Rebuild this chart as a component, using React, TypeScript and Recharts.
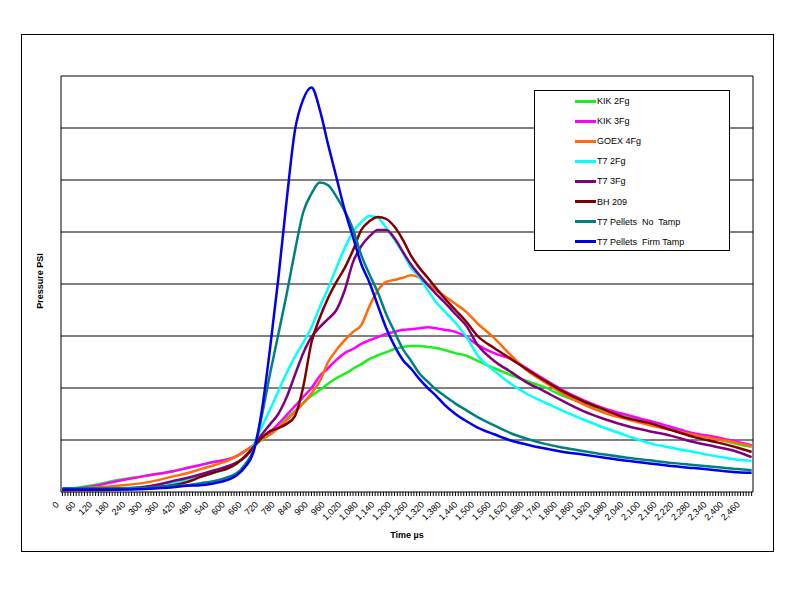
import { LineChart, Line, XAxis, YAxis, ReferenceLine, Legend } from 'recharts';

const FONT = 'Arial, "Liberation Sans", sans-serif';

// sample times (µs) the curves were read at
const timeUs = [
  0, 100, 200, 300, 400, 450, 500, 550, 600, 630, 660, 690, 720, 750, 780, 810, 840, 870, 900,
  930, 960, 990, 1020, 1050, 1080, 1110, 1140, 1170, 1200, 1230, 1260, 1290, 1320, 1350, 1380,
  1420, 1460, 1500, 1560, 1620, 1680, 1740, 1800, 1880, 1960, 2040, 2120, 2200, 2280, 2360, 2440, 2490,
];

// pressure readings (no scale is printed on the original, so one grid step = 1)
const kik2Fg = [
  0.04, 0.12, 0.23, 0.31, 0.4, 0.46, 0.52, 0.58, 0.63, 0.69, 0.79, 0.88, 1.0, 1.13, 1.25, 1.42, 1.56, 1.71, 1.85,
  1.96, 2.08, 2.19, 2.27, 2.37, 2.46, 2.56, 2.63, 2.69, 2.75, 2.79, 2.81, 2.81, 2.79, 2.77, 2.73,
  2.67, 2.62, 2.52, 2.38, 2.25, 2.13, 2.02, 1.87, 1.71, 1.56, 1.44, 1.33, 1.21, 1.12, 1.02, 0.92, 0.87,
];
const kik3Fg = [
  0.04, 0.1, 0.21, 0.31, 0.4, 0.46, 0.52, 0.58, 0.63, 0.69, 0.79, 0.9, 1.04, 1.15, 1.31, 1.48, 1.65, 1.83, 2.0,
  2.23, 2.38, 2.54, 2.67, 2.75, 2.85, 2.92, 2.98, 3.04, 3.08, 3.12, 3.13, 3.15, 3.17, 3.15, 3.12,
  3.08, 2.98, 2.83, 2.67, 2.56, 2.37, 2.17, 1.98, 1.77, 1.6, 1.48, 1.37, 1.25, 1.13, 1.06, 0.96, 0.9,
];
const goex4Fg = [
  0.05, 0.08, 0.12, 0.18, 0.3, 0.36, 0.44, 0.52, 0.61, 0.69, 0.79, 0.9, 1.02, 1.1, 1.23, 1.38, 1.54, 1.71, 1.9,
  2.13, 2.5, 2.73, 2.92, 3.08, 3.21, 3.58, 3.88, 4.04, 4.08, 4.12, 4.17, 4.12, 4.0, 3.88, 3.77,
  3.62, 3.46, 3.24, 2.96, 2.63, 2.33, 2.12, 1.92, 1.69, 1.52, 1.4, 1.29, 1.19, 1.1, 1.02, 0.94, 0.88,
];
const t7_2Fg = [
  0.05, 0.05, 0.07, 0.1, 0.17, 0.23, 0.3, 0.37, 0.46, 0.55, 0.67, 0.89, 1.25, 1.58, 1.94, 2.29, 2.6, 2.87, 3.17,
  3.56, 3.92, 4.31, 4.69, 5.0, 5.19, 5.31, 5.27, 5.08, 4.85, 4.6, 4.31, 4.13, 3.88, 3.65, 3.48,
  3.25, 2.98, 2.63, 2.33, 2.08, 1.88, 1.73, 1.58, 1.4, 1.23, 1.08, 0.94, 0.85, 0.77, 0.69, 0.62, 0.6,
];
const t7_3Fg = [
  0.04, 0.05, 0.06, 0.1, 0.21, 0.27, 0.34, 0.42, 0.5, 0.57, 0.67, 0.86, 1.1, 1.3, 1.5, 1.82, 2.25, 2.67, 2.98,
  3.17, 3.33, 3.5, 3.88, 4.42, 4.73, 4.92, 5.04, 5.04, 4.88, 4.62, 4.37, 4.17, 3.98, 3.81, 3.65,
  3.42, 3.19, 2.83, 2.52, 2.31, 2.1, 1.94, 1.77, 1.56, 1.4, 1.27, 1.17, 1.08, 0.96, 0.87, 0.77, 0.67,
];
const bh209 = [
  0.04, 0.04, 0.05, 0.08, 0.13, 0.19, 0.29, 0.38, 0.46, 0.55, 0.69, 0.86, 1.04, 1.17, 1.23, 1.31, 1.46, 2.02, 2.88,
  3.35, 3.73, 4.04, 4.31, 4.65, 5.04, 5.21, 5.29, 5.25, 5.1, 4.85, 4.54, 4.31, 4.12, 3.92, 3.73,
  3.5, 3.27, 3.0, 2.77, 2.56, 2.35, 2.15, 1.96, 1.75, 1.58, 1.42, 1.33, 1.19, 1.06, 0.96, 0.85, 0.77,
];
const pelletsNoTamp = [
  0.07, 0.07, 0.07, 0.08, 0.12, 0.13, 0.17, 0.21, 0.29, 0.36, 0.53, 0.8, 1.45, 2.27, 3.03, 3.8, 4.63, 5.38, 5.74,
  5.95, 5.9, 5.68, 5.4, 5.05, 4.55, 4.18, 3.83, 3.42, 3.08, 2.75, 2.52, 2.28, 2.12, 1.97, 1.85,
  1.7, 1.57, 1.44, 1.28, 1.13, 1.02, 0.93, 0.86, 0.79, 0.72, 0.66, 0.61, 0.56, 0.52, 0.48, 0.44, 0.42,
];
const pelletsFirmTamp = [
  0.05, 0.05, 0.05, 0.06, 0.09, 0.12, 0.13, 0.17, 0.24, 0.32, 0.48, 0.76, 1.55, 2.75, 4.1, 5.6, 6.95, 7.55, 7.78,
  7.35, 6.68, 6.05, 5.42, 4.9, 4.38, 4.02, 3.58, 3.15, 2.81, 2.54, 2.37, 2.17, 2.0, 1.85, 1.68,
  1.5, 1.36, 1.24, 1.11, 0.99, 0.91, 0.84, 0.78, 0.72, 0.66, 0.6, 0.55, 0.5, 0.46, 0.42, 0.38, 0.37,
];

const legendOrder = [
  'KIK 2Fg',
  'KIK 3Fg',
  'GOEX 4Fg',
  'T7 2Fg',
  'T7 3Fg',
  'BH 209',
  'T7 Pellets  No  Tamp',
  'T7 Pellets  Firm Tamp',
];

// axis ticks: a mark every 10 µs, a label every 60 µs up to 2,460
const xTicks = Array.from({ length: 250 }, (_, i) => i * 10);
const xLabelStep = 60;
const xLastLabel = 2460;
const yTicks = [0, 1, 2, 3, 4, 5, 6, 7, 8];

const data = timeUs.map((t, i) => ({
  t,
  kik2: kik2Fg[i],
  kik3: kik3Fg[i],
  goex4: goex4Fg[i],
  t72: t7_2Fg[i],
  t73: t7_3Fg[i],
  bh: bh209[i],
  noTamp: pelletsNoTamp[i],
  firmTamp: pelletsFirmTamp[i],
}));

const renderTimeTick = (props: any) => {
  const { x, y, payload } = props;
  const v = payload.value as number;
  if (v % xLabelStep !== 0 || v > xLastLabel) return <g />;
  const ax = x - 5;
  const ay = y + 5;
  return (
    <text
      x={ax}
      y={ay}
      transform={`rotate(-45, ${ax}, ${ay})`}
      textAnchor="end"
      dominantBaseline="central"
      fontSize={9}
      fontFamily={FONT}
      fill="#000"
    >
      {v.toLocaleString('en-US')}
    </text>
  );
};

const renderYTitle = (props: any) => {
  const { x, y, height } = props.viewBox;
  const cx = x - 20;
  const cy = y + height / 2 - 3;
  return (
    <text
      x={cx}
      y={cy}
      transform={`rotate(-90, ${cx}, ${cy})`}
      textAnchor="middle"
      dominantBaseline="central"
      fontSize={9}
      fontWeight="bold"
      fontFamily={FONT}
      fill="#000"
    >
      Pressure PSI
    </text>
  );
};

const renderXTitle = (props: any) => {
  const { x, y, width } = props.viewBox;
  return (
    <text
      x={x + width / 2}
      y={y + 43}
      textAnchor="middle"
      dominantBaseline="central"
      fontSize={9}
      fontWeight="bold"
      fontFamily={FONT}
      fill="#000"
    >
      Time µs
    </text>
  );
};

const renderLegend = (props: any) => {
  const payload = [...(props.payload || [])].sort(
    (a: any, b: any) => legendOrder.indexOf(a.value) - legendOrder.indexOf(b.value),
  );
  return (
    <div style={{ width: 194, height: 159, border: '1px solid #000', background: '#fff', fontFamily: FONT }}>
      {payload.map((entry: any) => (
        <div key={entry.value} style={{ display: 'flex', alignItems: 'center', height: 20.1 }}>
          <span style={{ display: 'inline-block', marginLeft: 40, width: 21, height: 3, background: entry.color }} />
          <span style={{ marginLeft: 1, fontSize: 9, whiteSpace: 'pre', color: '#000' }}>{entry.value}</span>
        </div>
      ))}
    </div>
  );
};

export default function App() {
  return (
    <div style={{ position: 'relative', width: 776, height: 596, fontFamily: FONT }}>
      <div
        style={{ position: 'absolute', left: 13, top: 26, width: 751, height: 516, border: '1px solid #000' }}
      />
      <LineChart width={776} height={596} data={data} margin={{ top: 68, right: 30, bottom: 52, left: 52 }}>
        <XAxis
          dataKey="t"
          type="number"
          domain={[-5, 2495]}
          ticks={xTicks}
          interval={0}
          tick={renderTimeTick}
          tickSize={4}
          tickLine={{ stroke: '#000' }}
          axisLine={{ stroke: '#000' }}
          height={60}
          label={renderXTitle}
        />
        <YAxis
          domain={[0, 8]}
          ticks={yTicks}
          tick={false}
          tickLine={false}
          axisLine={{ stroke: '#000' }}
          width={1}
          label={renderYTitle}
        />
        <YAxis
          yAxisId="right"
          orientation="right"
          domain={[0, 8]}
          ticks={yTicks}
          tick={false}
          tickLine={false}
          axisLine={{ stroke: '#000' }}
          width={1}
        />
        {yTicks.slice(1).map((v) => (
          <ReferenceLine key={v} y={v} stroke="#000" strokeWidth={1} ifOverflow="visible" />
        ))}
        <Legend
          content={renderLegend}
          layout="vertical"
          align="center"
          verticalAlign="middle"
          wrapperStyle={{ left: 526, top: 82, width: 196 }}
        />
        <Line type="monotone" dataKey="kik2" name="KIK 2Fg" stroke="#1eee1e" strokeWidth={2.5} dot={false} isAnimationActive={false} />
        <Line type="monotone" dataKey="kik3" name="KIK 3Fg" stroke="#ff00ff" strokeWidth={2.5} dot={false} isAnimationActive={false} />
        <Line type="monotone" dataKey="goex4" name="GOEX 4Fg" stroke="#ff6a0a" strokeWidth={2.5} dot={false} isAnimationActive={false} />
        <Line type="monotone" dataKey="t72" name="T7 2Fg" stroke="#00ffff" strokeWidth={2.5} dot={false} isAnimationActive={false} />
        <Line type="monotone" dataKey="t73" name="T7 3Fg" stroke="#800080" strokeWidth={2.5} dot={false} isAnimationActive={false} />
        <Line type="monotone" dataKey="bh" name="BH 209" stroke="#800000" strokeWidth={2.5} dot={false} isAnimationActive={false} />
        <Line type="monotone" dataKey="noTamp" name="T7 Pellets  No  Tamp" stroke="#008080" strokeWidth={2.5} dot={false} isAnimationActive={false} />
        <Line type="monotone" dataKey="firmTamp" name="T7 Pellets  Firm Tamp" stroke="#0000ee" strokeWidth={2.5} dot={false} isAnimationActive={false} />
      </LineChart>
    </div>
  );
}
